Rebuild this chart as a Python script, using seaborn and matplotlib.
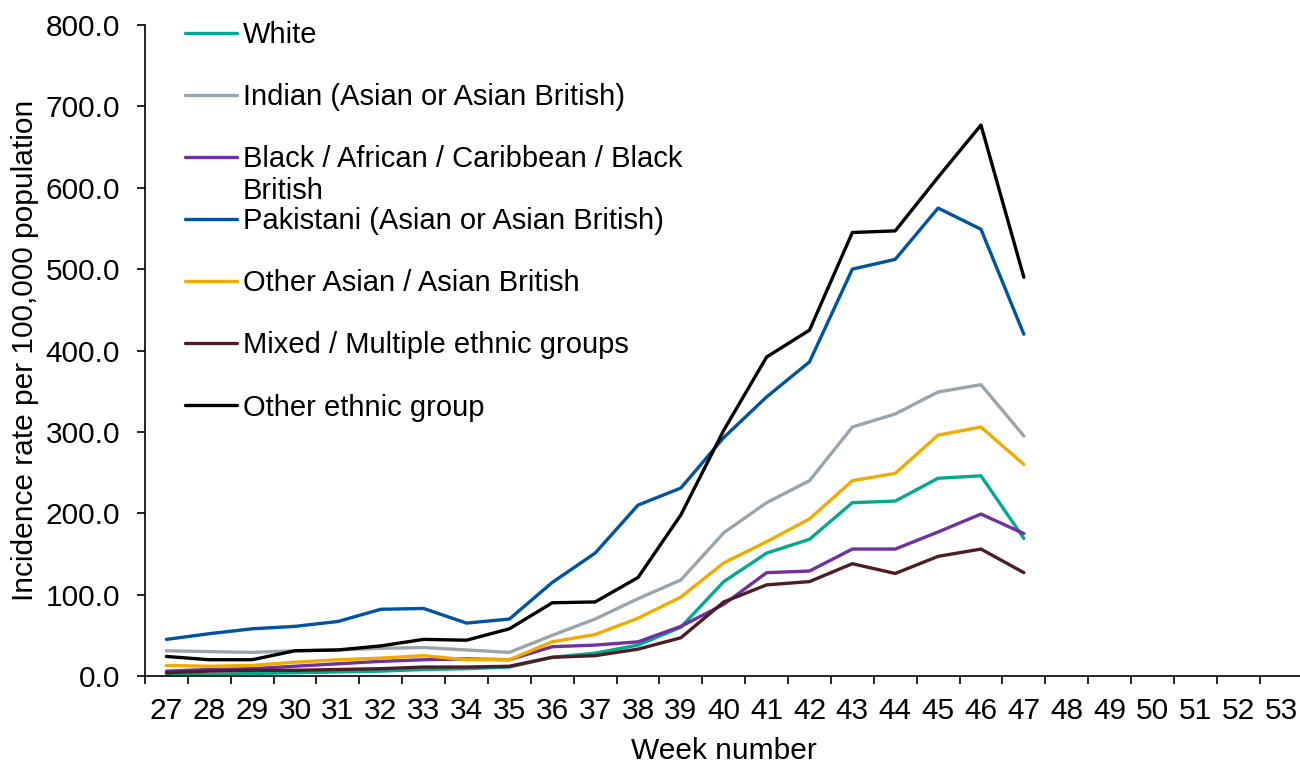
import matplotlib
matplotlib.use("Agg")
import matplotlib.pyplot as plt
import seaborn as sns
import numpy as np
import pandas as pd
from matplotlib.ticker import FixedLocator, FormatStrFormatter

weeks = list(range(27, 48))
all_weeks = list(range(27, 54))

white = [1, 2, 3, 4, 5, 6, 8, 9, 11, 23, 28, 38, 60, 116, 151, 168, 213, 215, 243, 246, 169]
indian = [31, 30, 29, 31, 32, 34, 35, 32, 29, 50, 70, 95, 118, 176, 213, 240, 306, 322, 349, 358, 295]
black = [6, 8, 9, 12, 15, 18, 20, 21, 20, 36, 38, 42, 61, 88, 127, 129, 156, 156, 177, 199, 175]
pakistani = [45, 52, 58, 61, 67, 82, 83, 65, 70, 115, 151, 210, 231, 293, 343, 386, 500, 512, 575, 549, 420]
other_asian = [13, 12, 13, 17, 20, 22, 25, 20, 20, 42, 51, 71, 97, 139, 165, 193, 240, 249, 296, 306, 260]
mixed = [4, 6, 7, 7, 8, 9, 11, 11, 12, 23, 25, 33, 47, 91, 112, 116, 138, 126, 147, 156, 127]
other = [24, 20, 20, 31, 32, 37, 45, 44, 58, 90, 91, 121, 198, 302, 392, 425, 545, 547, 613, 677, 490]

groups = ["White", "Indian (Asian or Asian British)",
          "Black / African / Caribbean / Black British",
          "Pakistani (Asian or Asian British)", "Other Asian / Asian British",
          "Mixed / Multiple ethnic groups", "Other ethnic group"]
series = [white, indian, black, pakistani, other_asian, mixed, other]
colours = ["#00A98F", "#9AA4AB", "#7030A0", "#00539F", "#F0AB00", "#4D1C24", "#000000"]

rows = []
for g, vals in zip(groups, series):
    for w, v in zip(weeks, vals):
        rows.append({"week": w, "group": g, "rate": v})
df = pd.DataFrame(rows)

sns.set_style("white")
plt.rcParams["font.family"] = ["Liberation Sans", "DejaVu Sans"]
plt.rcParams["text.color"] = "black"
plt.rcParams["axes.labelcolor"] = "black"
plt.rcParams["xtick.color"] = "black"
plt.rcParams["ytick.color"] = "black"

fs = 21.5
leg_fs = 21
fig = plt.figure(figsize=(13, 7.64), dpi=100)
ax = fig.add_axes([145 / 1300, 88 / 764, 1157.5 / 1300, 651 / 764])

sns.lineplot(data=df, x="week", y="rate", hue="group", hue_order=groups,
             palette=dict(zip(groups, colours)), linewidth=2.4, ax=ax, legend=False)

ax.set_xlim(26.5, 53.5)
ax.set_ylim(0, 800)
ax.xaxis.set_major_locator(FixedLocator(all_weeks))
ax.set_xticklabels([str(w) for w in all_weeks])
ax.xaxis.set_minor_locator(FixedLocator(np.arange(26.5, 54, 1)))
ax.tick_params(axis="x", which="major", length=0, labelsize=fs, pad=15)
ax.tick_params(axis="x", which="minor", length=6, width=1.2, direction="out", bottom=True)
ax.yaxis.set_major_locator(FixedLocator(np.arange(0, 801, 100)))
ax.yaxis.set_major_formatter(FormatStrFormatter("%.1f"))
ax.tick_params(axis="y", length=6, width=1.2, direction="out", left=True, labelsize=fs, pad=12)

for s in ["top", "right"]:
    ax.spines[s].set_visible(False)
for s in ["left", "bottom"]:
    ax.spines[s].set_color("black")
    ax.spines[s].set_linewidth(1.2)

ax.set_xlabel("Week number", fontsize=fs, labelpad=9)
ax.set_ylabel("Incidence rate per 100,000 population", fontsize=fs, labelpad=5)

# legend labels: the long one overflows onto a second line like in the original
leg_labels = list(groups)
leg_labels[2] = "Black / African / Caribbean / Black"
handles = [plt.Line2D([], [], color=c, linewidth=2.4) for c in colours]
leg = ax.legend(handles, leg_labels, loc="upper left", bbox_to_anchor=(0.0345, 1.0064),
                frameon=False, fontsize=leg_fs, handlelength=1.78, handletextpad=0.2,
                labelspacing=1.17, borderpad=0, borderaxespad=0)

fig.canvas.draw()
bb = leg.get_texts()[2].get_window_extent()
fig.text(bb.x0 / 1300, (bb.y0 + bb.y1) / 2 / 764 - 32 / 764, "British",
         fontsize=leg_fs, va="center", ha="left")

fig.savefig("out.png", dpi=100)
